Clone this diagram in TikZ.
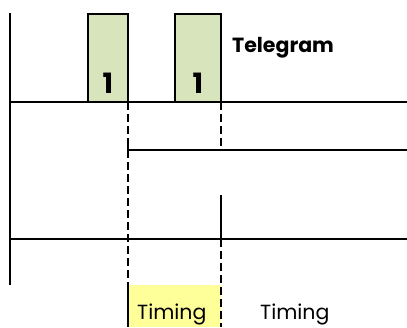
\documentclass[tikz,border=0pt]{standalone}
\usepackage{fontspec}
\setmainfont{Poppins}
\definecolor{tgreen}{HTML}{D8E4BC}
\definecolor{tyellow}{HTML}{FFFF99}
\begin{document}
\begin{tikzpicture}[x=1pt,y=-1pt,
  solidline/.style={line width=2.8pt},
  dashline/.style={line width=1.8pt,dash pattern=on 8pt off 4pt},
  telebox/.style={draw,line width=2.8pt,fill=tgreen,minimum width=40pt,minimum height=88pt,inner sep=0pt},
  onelabel/.style={font=\fontsize{28}{28}\selectfont\bfseries,anchor=base},
  timelabel/.style={font=\fontsize{20.5}{20.5}\selectfont,anchor=base}]
\useasboundingbox (0,0) rectangle (407,327);
% yellow box
\fill[tyellow] (128,285) rectangle (221,327);
% telegram boxes
\node[telebox] (b1) at (108,58) {};
\node[telebox,minimum width=46pt] (b2) at (198,58) {};
\node[onelabel] (n1) at (108,93) {1};
\node[onelabel] (n2) at (198,93) {1};
\node[font=\fontsize{20.5}{20.5}\selectfont\bfseries,anchor=base west,inner sep=0pt] (tel) at (232,52) {Telegram};
% coordinates
\coordinate (L0) at (10,13);
\coordinate (L1) at (10,285);
\coordinate (h1a) at (10,102);
\coordinate (h1b) at (407,102);
\coordinate (d1a) at (128,102);
\coordinate (d1b) at (128,285);
\coordinate (d1c) at (128,327);
\coordinate (d2a) at (221,102);
\coordinate (d2b) at (221,147);
\coordinate (h2a) at (128,150);
\coordinate (h2b) at (407,150);
\coordinate (s2a) at (221,195);
\coordinate (s2b) at (221,239);
\coordinate (d2c) at (221,327);
\coordinate (h3a) at (10,239);
\coordinate (h3b) at (407,239);
% lines
\draw[solidline] (L0) -- (L1);
\draw[solidline] (h1a) -- (h1b);
\draw[dashline] (d1a) -- (d1b);
\draw[solidline] (d1b) -- (d1c);
\draw[dashline] (d2a) -- (d2b);
\draw[solidline] (h2a) -- (h2b);
\draw[solidline] (128,145) -- (128,155);
\draw[solidline] (s2a) -- (s2b);
\draw[dashline] (s2b) -- (d2c);
\draw[solidline] (h3a) -- (h3b);
% labels
\node[timelabel,inner sep=0pt,anchor=base west] (t1) at (137,319) {Timing};
\node[timelabel,inner sep=0pt,anchor=base west] (t2) at (260,319) {Timing};
\end{tikzpicture}
\end{document}
